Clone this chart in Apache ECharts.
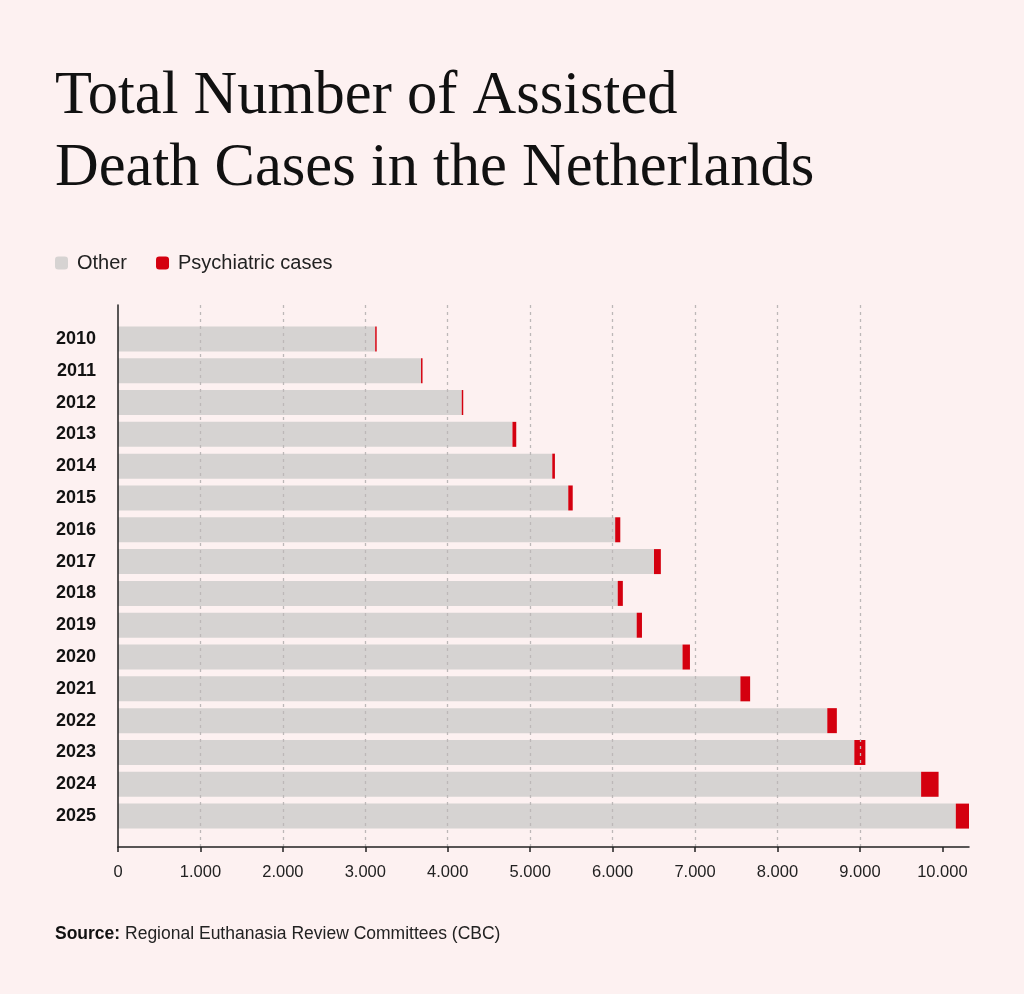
<!DOCTYPE html>
<html>
<head>
<meta charset="utf-8">
<script src="https://cdn.jsdelivr.net/npm/echarts@6/dist/echarts.min.js"></script>
<style>
  html, body { margin: 0; padding: 0; background: #fdf1f1; }
  #chart { width: 1024px; height: 994px; }
</style>
</head>
<body>
<div id="chart"></div>
<script>
    // data
    var years = ['2010', '2011', '2012', '2013', '2014', '2015', '2016', '2017',
                 '2018', '2019', '2020', '2021', '2022', '2023', '2024', '2025'];
    var otherCases = [3120, 3676, 4170, 4785, 5268, 5462, 6031, 6502,
                      6062, 6292, 6848, 7550, 8604, 8932, 9742, 10163];
    var psychCases = [18, 18, 18, 46, 32, 54, 62, 83,
                      62, 64, 90, 118, 116, 134, 212, 160];
    var tickValues = [0, 1000, 2000, 3000, 4000, 5000, 6000, 7000, 8000, 9000, 10000];

    var totals = otherCases.map(function (v, i) { return v + psychCases[i]; });
    var xMax = Math.max.apply(null, totals);

    function dotThousands(v) {
        return String(v).replace(/\B(?=(\d{3})+(?!\d))/g, '.');
    }

    var chart = echarts.init(document.getElementById('chart'));

    chart.setOption({
        backgroundColor: '#fdf1f1',
        title: [
            {
                text: 'Total Number of Assisted\nDeath Cases in the Netherlands',
                left: 55,
                top: 61,
                padding: 0,
                textStyle: {
                    fontFamily: 'Liberation Serif',
                    fontWeight: 'normal',
                    fontSize: 60.5,
                    lineHeight: 72,
                    color: '#111'
                }
            },
            {
                text: '{b|Source:} Regional Euthanasia Review Committees (CBC)',
                left: 55,
                top: 925,
                padding: 0,
                textStyle: {
                    fontFamily: 'Liberation Sans',
                    fontWeight: 'normal',
                    fontSize: 17.5,
                    color: '#222',
                    rich: {
                        b: { fontFamily: 'Liberation Sans', fontWeight: 'bold', fontSize: 17.5, color: '#111' }
                    }
                }
            }
        ],
        legend: {
            left: 55,
            top: 253,
            padding: 0,
            icon: 'roundRect',
            itemWidth: 13,
            itemHeight: 13,
            itemGap: 29,
            data: ['Other', 'Psychiatric cases'],
            textStyle: {
                fontFamily: 'Liberation Sans',
                fontSize: 20,
                color: '#222',
                padding: [0, 0, 0, 4]
            }
        },
        grid: [
            /* frame grid: axis lines, ticks, dashed grid drawn above the bars */
            { left: 118, right: 55, top: 305, bottom: 147 },
            /* bar grid */
            { left: 118, right: 55, top: 323, bottom: 162 }
        ],
        xAxis: [
            {
                gridIndex: 0,
                type: 'value',
                min: 0,
                max: xMax,
                z: 5,
                axisLine: { show: true, lineStyle: { color: '#222', width: 1.5 } },
                axisTick: {
                    show: true,
                    length: 5,
                    customValues: tickValues,
                    lineStyle: { color: '#222', width: 1.5 }
                },
                axisLabel: {
                    customValues: tickValues,
                    margin: 17,
                    fontFamily: 'Liberation Sans',
                    fontSize: 16.5,
                    color: '#222',
                    formatter: function (v) { return dotThousands(v); }
                },
                splitLine: {
                    show: true,
                    showMinLine: false,
                    showMaxLine: false,
                    lineStyle: { color: '#bdb8b8', type: [3, 4], width: 1.3 }
                },
                interval: 1000
            },
            {
                gridIndex: 1,
                type: 'value',
                min: 0,
                max: xMax,
                show: false
            }
        ],
        yAxis: [
            {
                gridIndex: 0,
                type: 'value',
                min: 0,
                max: 1,
                z: 5,
                axisLine: { show: true, lineStyle: { color: '#222', width: 1.5 } },
                axisTick: { show: false },
                axisLabel: { show: false },
                splitLine: { show: false }
            },
            {
                gridIndex: 1,
                type: 'category',
                inverse: true,
                data: years,
                axisLine: { show: false },
                axisTick: { show: false },
                axisLabel: {
                    margin: 22,
                    padding: [3, 0, 0, 0],
                    fontFamily: 'Liberation Sans',
                    fontWeight: 'bold',
                    fontSize: 18,
                    color: '#111'
                }
            }
        ],
        series: [
            {
                name: 'Other',
                type: 'bar',
                xAxisIndex: 1,
                yAxisIndex: 1,
                stack: 'total',
                barWidth: 25,
                z: 2,
                itemStyle: { color: '#d6d3d2' },
                data: otherCases
            },
            {
                name: 'Psychiatric cases',
                type: 'bar',
                xAxisIndex: 1,
                yAxisIndex: 1,
                stack: 'total',
                barWidth: 25,
                z: 2,
                itemStyle: { color: '#d4000f' },
                data: psychCases
            }
        ]
    });
</script>
</body>
</html>
